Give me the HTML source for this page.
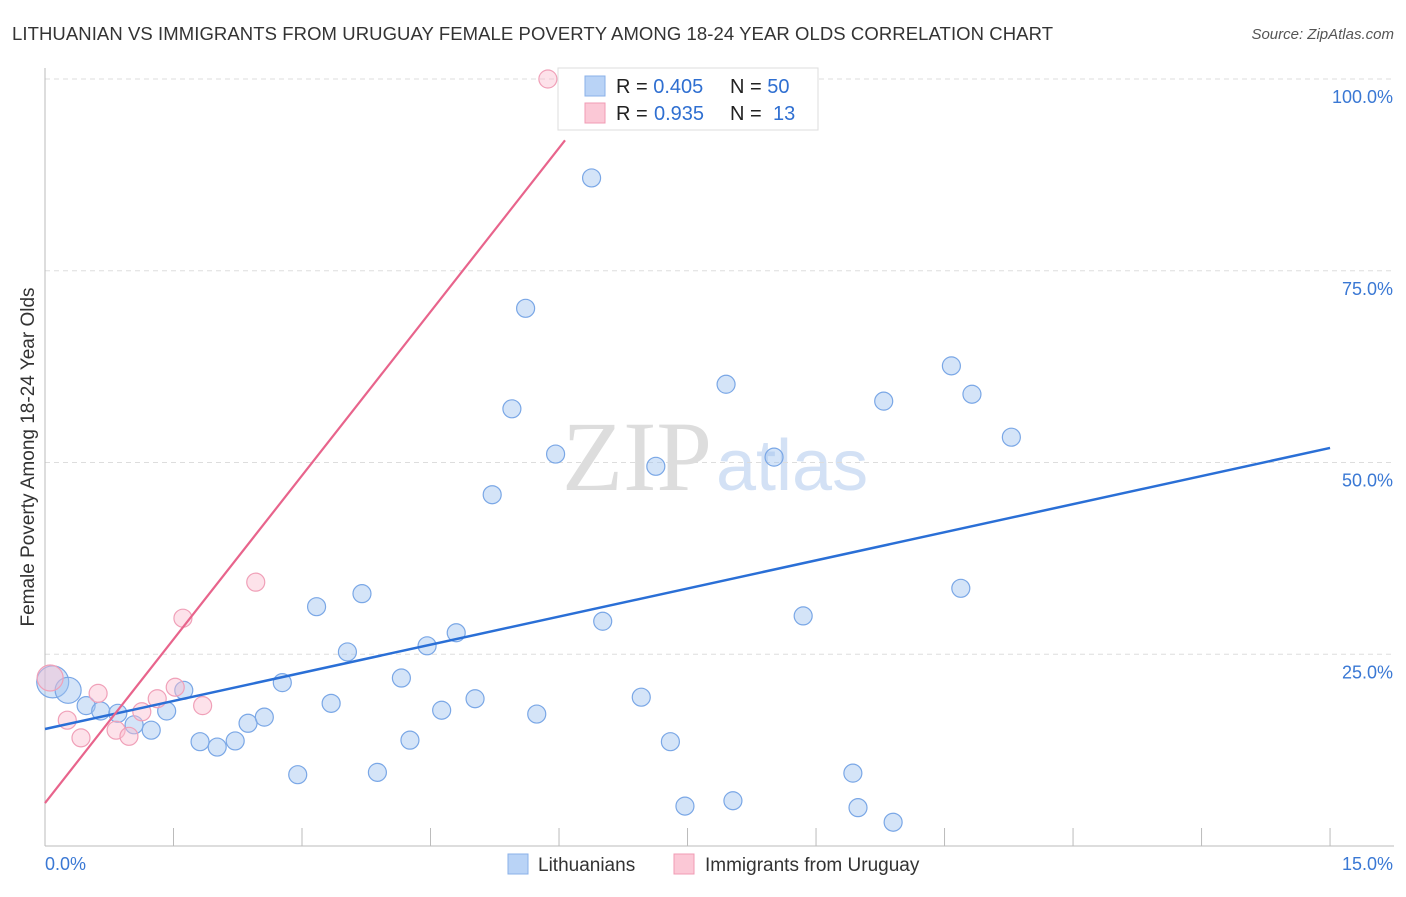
<!DOCTYPE html>
<html><head><meta charset="utf-8"><style>
body{margin:0;background:#fff;font-family:"Liberation Sans",sans-serif}
</style></head><body>
<svg width="1406" height="892" xmlns="http://www.w3.org/2000/svg" font-family="Liberation Sans, sans-serif">
<text x="12" y="40" font-size="18.5" fill="#333" textLength="1041">LITHUANIAN VS IMMIGRANTS FROM URUGUAY FEMALE POVERTY AMONG 18-24 YEAR OLDS CORRELATION CHART</text>
<text x="1394" y="39" font-size="15" fill="#555" font-style="italic" text-anchor="end">Source: ZipAtlas.com</text>
<text x="712" y="490" font-size="100" fill="#ddd" text-anchor="end" font-family="Liberation Serif, serif">ZIP</text>
<text x="716" y="490" font-size="72" fill="#d3e1f5">atlas</text>
<g id="grid"></g><g id="axes"></g><g id="pts"></g><g id="lines"></g>
<text transform="translate(34,457) rotate(-90)" font-size="19" fill="#333" text-anchor="middle">Female Poverty Among 18-24 Year Olds</text>
<g>
<rect x="558" y="68" width="260" height="62" fill="#fff" stroke="#ddd"/>
<rect x="585" y="76" width="20" height="20" fill="#b9d3f6" stroke="#8ab0e8"/>
<rect x="585" y="103" width="20" height="20" fill="#fbc8d6" stroke="#f09bb4"/>
<text x="616" y="93" font-size="20" fill="#222">R = <tspan fill="#2f6fd1">0.405</tspan><tspan x="730">N = </tspan><tspan fill="#2f6fd1">50</tspan></text>
<text x="616" y="120" font-size="20" fill="#222">R = <tspan fill="#2f6fd1" x="654">0.935</tspan><tspan x="730">N = </tspan><tspan fill="#2f6fd1" x="773">13</tspan></text>
</g>
<g>
<rect x="508" y="854" width="20" height="20" fill="#b9d3f6" stroke="#8ab0e8"/>
<text x="538" y="871" font-size="19" fill="#333">Lithuanians</text>
<rect x="674" y="854" width="20" height="20" fill="#fbc8d6" stroke="#f09bb4"/>
<text x="705" y="871" font-size="19" fill="#333">Immigrants from Uruguay</text>
</g>
</svg>
<script>
const blueX=[0.09,0.27,0.48,0.65,0.85,1.04,1.24,1.42,1.62,1.81,2.01,2.22,2.37,2.56,2.77,2.95,3.17,3.34,3.53,3.70,3.88,4.16,4.26,4.46,4.63,4.80,5.02,5.22,5.45,5.61,5.74,5.96,6.38,6.51,6.96,7.13,7.30,7.47,7.95,8.03,8.51,8.85,9.43,9.49,9.79,9.90,10.58,10.69,10.82,11.28];
const blueY=[21.4,20.3,18.3,17.6,17.3,15.8,15.1,17.6,20.3,13.6,12.9,13.7,16.0,16.8,21.3,9.3,31.2,18.6,25.3,32.9,9.6,21.9,13.8,26.1,17.7,27.8,19.2,45.8,57.0,70.1,17.2,51.1,87.1,29.3,19.4,49.5,13.6,5.2,60.2,5.9,50.7,30.0,9.5,5.0,58.0,3.1,62.6,33.6,58.9,53.3];
const pinkX=[0.06,0.26,0.42,0.62,0.83,0.98,1.13,1.31,1.52,1.61,1.84,2.46,5.87];
const pinkY=[21.9,16.4,14.1,19.9,15.1,14.3,17.5,19.2,20.7,29.7,18.3,34.4,100];
const blueTrend=[15.25,51.9];
const pinkTrend=[5.6,92.0,6.07];
const yTicks=[25,50,75,100];
const xTickLabels=["0.0%","15.0%"];
const NS="http://www.w3.org/2000/svg";
const X=v=>45+v*85.67, Y=v=>846-v*7.67;
function mk(tag,attrs,parent){const e=document.createElementNS(NS,tag);for(const k in attrs)e.setAttribute(k,attrs[k]);document.getElementById(parent).appendChild(e);return e;}
yTicks.forEach(t=>{
 const g=mk('line',{x1:45,x2:1394,y1:Y(t),y2:Y(t),stroke:'#ddd','stroke-dasharray':'5,4'},'grid');
 
 
 const l=mk('text',{x:1393,y:Y(t)+24,'font-size':18,fill:'#3a78d4','text-anchor':'end'},'grid');
 l.textContent=t.toFixed(1)+'%';
 
 
});
let a=mk('line',{x1:45,x2:45,y1:68,y2:846,stroke:'#bbb'},'axes');


a=mk('line',{x1:45,x2:1394,y1:846,y2:846,stroke:'#bbb'},'axes');


for(let i=0;i<=10;i++){const t=mk('line',{x1:X(i*1.5),x2:X(i*1.5),y1:828,y2:846,stroke:'#bbb'},'axes');
 
 }
let xl=mk('text',{x:45,y:870,'font-size':18,fill:'#3a78d4'},'axes');xl.textContent=xTickLabels[0];


xl=mk('text',{x:1393,y:870,'font-size':18,fill:'#3a78d4','text-anchor':'end'},'axes');xl.textContent=xTickLabels[1];


blueX.forEach((x,i)=>{const r=i==0?16:(i==1?13:9);
 const c=mk('circle',{cx:X(x),cy:Y(blueY[i]),r:r,fill:'rgba(160,195,240,0.45)',stroke:'#7aa7e6','stroke-width':1.2},'pts');
 
 });
pinkX.forEach((x,i)=>{const r=i==0?13:9;
 const c=mk('circle',{cx:X(x),cy:Y(pinkY[i]),r:r,fill:'rgba(250,190,208,0.45)',stroke:'#f0a0b8','stroke-width':1.2},'pts');
 
 });
let ln=mk('line',{x1:X(0),y1:Y(blueTrend[0]),x2:X(15),y2:Y(blueTrend[1]),stroke:'#2a6fd6','stroke-width':2.5},'lines');


ln=mk('line',{x1:X(0),y1:Y(pinkTrend[0]),x2:X(pinkTrend[2]),y2:Y(pinkTrend[1]),stroke:'#e8648c','stroke-width':2.2},'lines');


</script>
</body></html>
